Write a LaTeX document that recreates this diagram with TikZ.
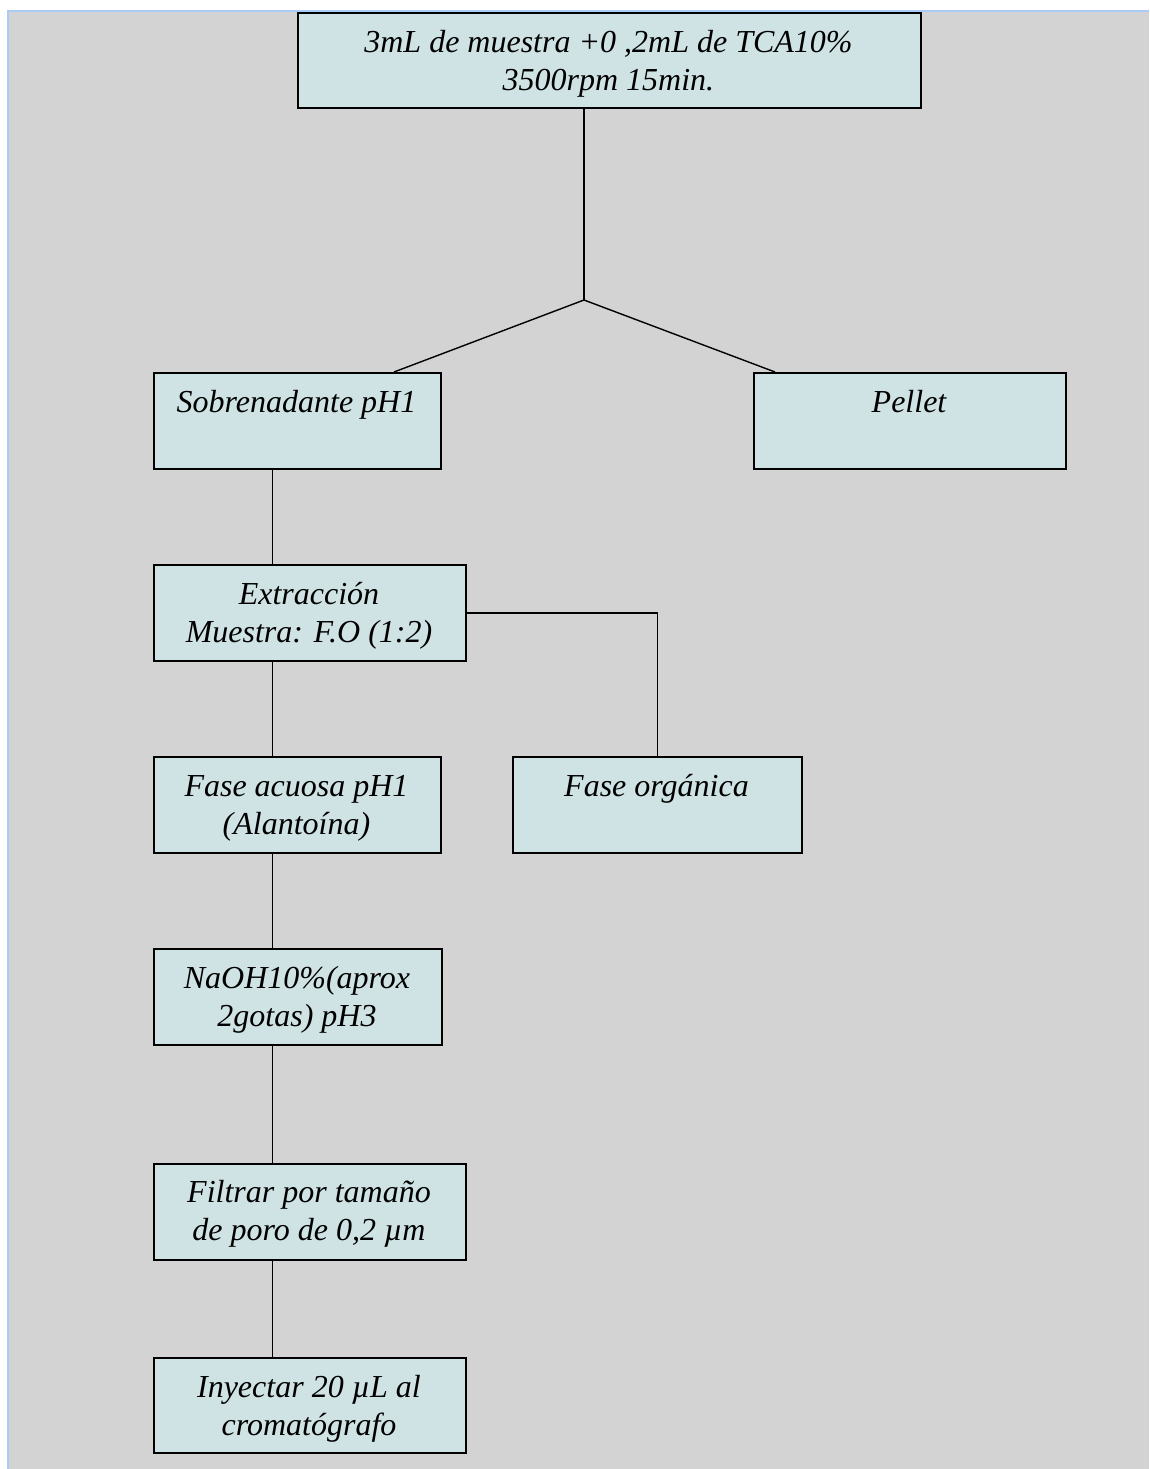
\documentclass[tikz,border=0pt]{standalone}
\usepackage{fontspec}
\setmainfont{Liberation Serif}
\definecolor{bggray}{RGB}{211,211,211}
\definecolor{boxfill}{RGB}{207,227,229}
\definecolor{bordblue}{RGB}{170,204,244}
\begin{document}
\begin{tikzpicture}[x=1pt,y=-1pt,
  box/.style={draw=black, line width=1.8pt, fill=boxfill, inner sep=0pt, anchor=north west},
  txt/.style={anchor=base, inner sep=0pt, font=\fontsize{32}{38}\selectfont\itshape},
  conn/.style={line width=1.4pt, draw=black}]
\useasboundingbox (0,0) rectangle (1149,1469);
\fill[white] (0,0) rectangle (1149,1469);
\fill[bggray] (8,11) rectangle (1149,1469);
\draw[bordblue, line width=2pt] (8,1469) -- (8,11) -- (1149,11);

% boxes
\node[box, minimum width=623pt, minimum height=95pt] (top) at (297,12) {};
\node[box, minimum width=287pt, minimum height=96pt] (sob) at (153,372) {};
\node[box, minimum width=312pt, minimum height=96pt] (pel) at (753,372) {};
\node[box, minimum width=312pt, minimum height=96pt] (ext) at (153,564) {};
\node[box, minimum width=287pt, minimum height=96pt] (acu) at (153,756) {};
\node[box, minimum width=289pt, minimum height=96pt] (org) at (512,756) {};
\node[box, minimum width=288pt, minimum height=96pt] (naoh) at (153,948) {};
\node[box, minimum width=312pt, minimum height=96pt] (filt) at (153,1163) {};
\node[box, minimum width=312pt, minimum height=95pt] (iny) at (153,1357) {};

% texts
\node[txt] (ttop) at (608.5,53) {\begin{tabular}[t]{@{}c@{}}3mL de muestra +0 ,2mL de TCA10\%\\3500rpm 15min.\end{tabular}};
\node[txt] (tsob) at (296.5,412) {Sobrenadante pH1};
\node[txt] (tpel) at (909,412) {Pellet};
\node[txt] (text) at (309,604) {\begin{tabular}[t]{@{}c@{}}Extracción\\Muestra: F.O (1:2)\end{tabular}};
\node[txt] (tacu) at (296.5,796) {\begin{tabular}[t]{@{}c@{}}Fase acuosa pH1\\(Alantoína)\end{tabular}};
\node[txt] (torg) at (656.5,796) {Fase orgánica};
\node[txt] (tnaoh) at (297,988) {\begin{tabular}[t]{@{}c@{}}NaOH10\%(aprox\\2gotas) pH3\end{tabular}};
\node[txt] (tfilt) at (309,1202) {\begin{tabular}[t]{@{}c@{}}Filtrar por tamaño\\de poro de 0,2 µm\end{tabular}};
\node[txt] (tiny) at (309,1397) {\begin{tabular}[t]{@{}c@{}}Inyectar 20 µL al\\cromatógrafo\end{tabular}};

% connectors
\coordinate (split) at (584,300);
\coordinate (spine) at (272.5,0);
\draw[conn] (top.south -| split) -- (split);
\draw[conn] (split) -- ([xshift=241pt]sob.north west);
\draw[conn] (split) -- ([xshift=22pt]pel.north west);
\draw[conn] (sob.south -| spine) -- (ext.north -| spine);
\draw[conn] (ext.east) -| (org.north);
\draw[conn] (ext.south -| spine) -- (acu.north -| spine);
\draw[conn] (acu.south -| spine) -- (naoh.north -| spine);
\draw[conn] (naoh.south -| spine) -- (filt.north -| spine);
\draw[conn] (filt.south -| spine) -- (iny.north -| spine);
\end{tikzpicture}
\end{document}
